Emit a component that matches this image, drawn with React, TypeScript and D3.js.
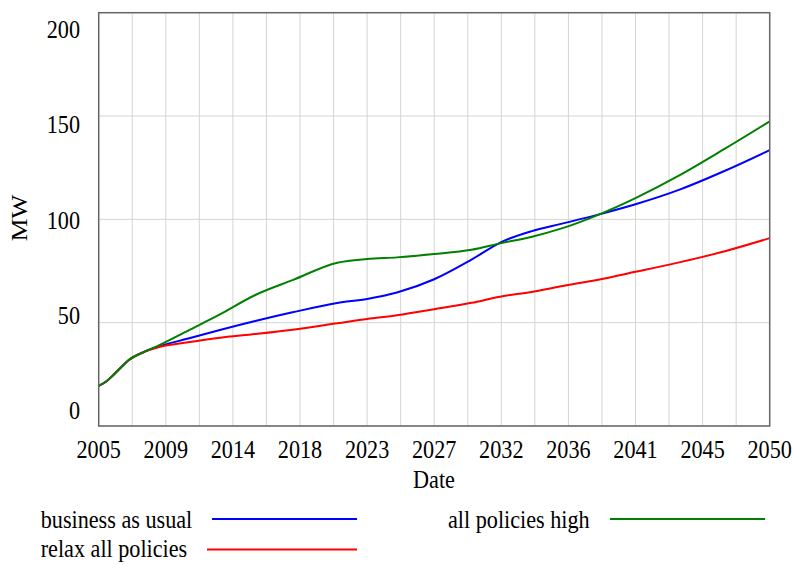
import React from 'react';
import * as d3 from 'd3';

// time axis (years)
const years = [2005, 2005.5, 2006, 2006.5, 2007, 2008, 2009, 2011, 2013, 2015.5, 2018, 2021, 2023, 2025, 2027.5, 2030, 2032, 2034, 2036, 2038.5, 2041, 2044, 2047, 2050];

const businessAsUsual = [19.4, 21.5, 24.8, 28.4, 31.8, 35.7, 38.4, 42.3, 46.2, 50.8, 55, 59.5, 61.5, 64.6, 71, 80.5, 89, 94.2, 97.8, 102.3, 107.3, 114.5, 123.5, 133.5];
const allPoliciesHigh = [19.4, 21.5, 24.8, 28.4, 31.8, 35.7, 38.9, 46.2, 53.5, 63.4, 70.6, 79, 80.8, 81.6, 83.2, 85.3, 88.5, 91.5, 95.5, 102.2, 110.3, 121.5, 134.2, 147.4];
const relaxAllPolicies = [19.4, 21.5, 24.8, 28.4, 31.8, 35.7, 38.1, 40.5, 42.6, 44.5, 46.6, 49.7, 51.8, 53.6, 56.5, 59.6, 62.7, 64.8, 67.6, 70.8, 74.6, 79.3, 84.6, 90.9];

const xTickLabels = ['2005', '2009', '2014', '2018', '2023', '2027', '2032', '2036', '2041', '2045', '2050'];
const yTicks = [0, 50, 100, 150, 200];

const series = [
  { name: 'business as usual', values: businessAsUsual, color: '#0000ff' },
  { name: 'relax all policies', values: relaxAllPolicies, color: '#ff0000' },
  { name: 'all policies high', values: allPoliciesHigh, color: '#008000' },
];

const W = 793;
const H = 565;
const plot = { left: 98.7, right: 769.7, top: 12.7, bottom: 426 };
const FONT = '"Liberation Serif", serif';
const FS = 25.5;
const SX = 0.87; // reference text is a bit narrow

const T: React.FC<{ x: number; y: number; anchor?: string; children: React.ReactNode }> = ({ x, y, anchor = 'start', children }) => (
  <text
    transform={`translate(${x},${y}) scale(${SX},1)`}
    textAnchor={anchor}
    style={{ fontFamily: FONT, fontSize: FS }}
    fill="#000"
  >
    {children}
  </text>
);

const App: React.FC = () => {
  const x = d3.scaleLinear().domain([2005, 2050]).range([plot.left, plot.right]);
  const y = d3.scaleLinear().domain([0, 200]).range([plot.bottom, plot.top]);
  // tick labels in the reference sit on their own evenly spaced rows
  const yLabel = d3.scaleLinear().domain([0, 200]).range([419.3, 37.7]);

  const gridX = d3.range(0, 21).map(i => 2005 + i * 2.25);
  const labelX = d3.range(0, 11).map(i => 2005 + i * 4.5);

  const line = d3.line<number>()
    .x((_, i) => x(years[i]))
    .y(d => y(d))
    .curve(d3.curveMonotoneX);

  return (
    <svg width={W} height={H} style={{ position: 'absolute', left: 0, top: 0, background: '#fff' }}>
      {/* grid */}
      {gridX.map(g => (
        <line key={'gx' + g} x1={x(g)} x2={x(g)} y1={plot.top} y2={plot.bottom} stroke="#d4d4d4" strokeWidth={1} />
      ))}
      {yTicks.map(t => (
        <line key={'gy' + t} x1={plot.left} x2={plot.right} y1={y(t)} y2={y(t)} stroke="#d4d4d4" strokeWidth={1} />
      ))}

      {/* series */}
      {series.map(s => (
        <path key={s.name} d={line(s.values) || ''} fill="none" stroke={s.color} strokeWidth={2} />
      ))}

      {/* frame */}
      <rect x={plot.left} y={plot.top} width={plot.right - plot.left} height={plot.bottom - plot.top}
        fill="none" stroke="#666" strokeWidth={1.5} />

      {/* y tick labels */}
      {yTicks.map(t => (
        <T key={'yl' + t} x={80} y={yLabel(t)} anchor="end">{t}</T>
      ))}
      {/* x tick labels */}
      {labelX.map((v, i) => (
        <T key={'xl' + i} x={x(v)} y={457.5} anchor="middle">{xTickLabels[i]}</T>
      ))}

      <T x={434} y={488} anchor="middle">Date</T>
      <text transform={`translate(27,218) rotate(-90) scale(1,${SX})`} textAnchor="middle"
        style={{ fontFamily: FONT, fontSize: FS }} fill="#000">MW</text>

      {/* legend */}
      <T x={40.7} y={528}>{series[0].name}</T>
      <line x1={212} x2={357} y1={519} y2={519} stroke={series[0].color} strokeWidth={2} />
      <T x={40.7} y={557}>{series[1].name}</T>
      <line x1={207} x2={357} y1={549.5} y2={549.5} stroke={series[1].color} strokeWidth={2} />
      <T x={448} y={528}>{series[2].name}</T>
      <line x1={610} x2={765} y1={519} y2={519} stroke={series[2].color} strokeWidth={2} />
    </svg>
  );
};

export default App;
